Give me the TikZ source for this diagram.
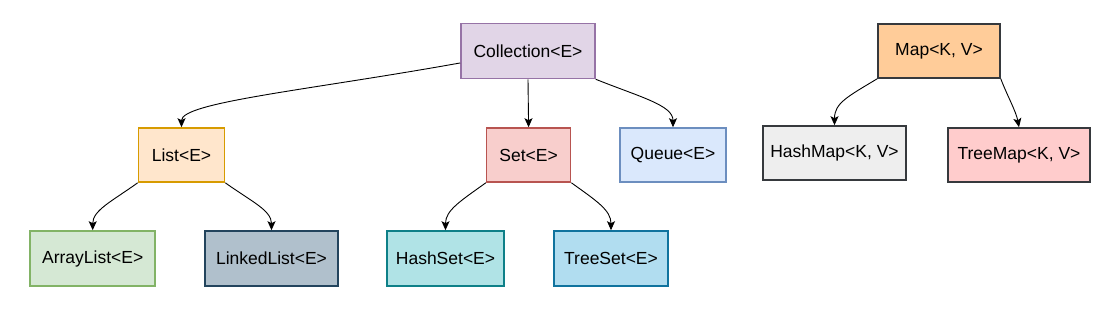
\documentclass[tikz,border=0pt]{standalone}
\usepackage{fontspec}
\setmainfont{Liberation Sans}
\usetikzlibrary{arrows.meta}
\definecolor{collF}{HTML}{E1D5E7}\definecolor{collD}{HTML}{9673A6}
\definecolor{listF}{HTML}{FFE6CC}\definecolor{listD}{HTML}{D79B00}
\definecolor{setF}{HTML}{F8CECC}\definecolor{setD}{HTML}{B85450}
\definecolor{queueF}{HTML}{DAE8FC}\definecolor{queueD}{HTML}{6C8EBF}
\definecolor{alF}{HTML}{D5E8D4}\definecolor{alD}{HTML}{82B366}
\definecolor{llF}{HTML}{B0C0CC}\definecolor{llD}{HTML}{23445D}
\definecolor{hsF}{HTML}{B0E3E6}\definecolor{hsD}{HTML}{0E8088}
\definecolor{tsF}{HTML}{B1DDF0}\definecolor{tsD}{HTML}{10739E}
\definecolor{mapF}{HTML}{FFCC99}\definecolor{darkD}{HTML}{36393D}
\definecolor{hmF}{HTML}{EEEEEE}
\definecolor{tmF}{HTML}{FFCCCC}
\tikzset{
  box/.style={draw, line width=1.6pt, inner sep=0pt, minimum height=54pt,
    font=\fontsize{17.5}{20}\selectfont},
  conn/.style={line width=0.9pt, -{Stealth[length=9pt,width=8pt,inset=2pt]}}
}
\begin{document}
\begin{tikzpicture}[x=1pt,y=-1pt]
\useasboundingbox (0,0) rectangle (1114,313);
\node[box, fill=collF, draw=collD, minimum width=134pt, minimum height=55pt] (coll) at (528,51) {Collection<E>};
\node[box, fill=listF, draw=listD, minimum width=86pt] (list) at (181.5,155) {List<E>};
\node[box, fill=setF, draw=setD, minimum width=84pt] (set) at (528.6,155) {Set<E>};
\node[box, fill=queueF, draw=queueD, minimum width=106pt] (queue) at (673,155) {Queue<E>};
\node[box, fill=mapF, draw=darkD, minimum width=122pt] (map) at (939,51) {Map<K, V>};
\node[box, fill=hmF, draw=darkD, minimum width=143pt] (hashmap) at (834.5,153) {HashMap<K, V>};
\node[box, fill=tmF, draw=darkD, minimum width=142pt] (treemap) at (1019,155) {TreeMap<K, V>};
\node[box, fill=alF, draw=alD, minimum width=125pt, minimum height=55pt] (arraylist) at (92.7,258.5) {ArrayList<E>};
\node[box, fill=llF, draw=llD, minimum width=133pt, minimum height=55pt] (linkedlist) at (271.5,258.5) {LinkedList<E>};
\node[box, fill=hsF, draw=hsD, minimum width=117pt, minimum height=55pt] (hashset) at (445.5,258.5) {HashSet<E>};
\node[box, fill=tsF, draw=tsD, minimum width=114pt, minimum height=55pt] (treeset) at (611,258.5) {TreeSet<E>};

\draw[conn] (coll.190) .. controls +(-150,27) and +(0,-25) .. (list.north);
\draw[conn] (coll.south) -- (set.north);
\draw[conn] (coll.south east) .. controls +(45,18) and +(0,-22) .. (queue.north);
\draw[conn] (map.south west) .. controls +(-30,18) and +(0,-22) .. (hashmap.north);
\draw[conn] (map.south east) .. controls +(6,16) and +(-3,-16) .. (treemap.north);
\draw[conn] (list.south west) .. controls +(-25,18) and +(0,-20) .. (arraylist.north);
\draw[conn] (list.south east) .. controls +(25,18) and +(0,-20) .. (linkedlist.north);
\draw[conn] (set.south west) .. controls +(-25,18) and +(0,-20) .. (hashset.north);
\draw[conn] (set.south east) .. controls +(25,18) and +(0,-20) .. (treeset.north);
\end{tikzpicture}
\end{document}
